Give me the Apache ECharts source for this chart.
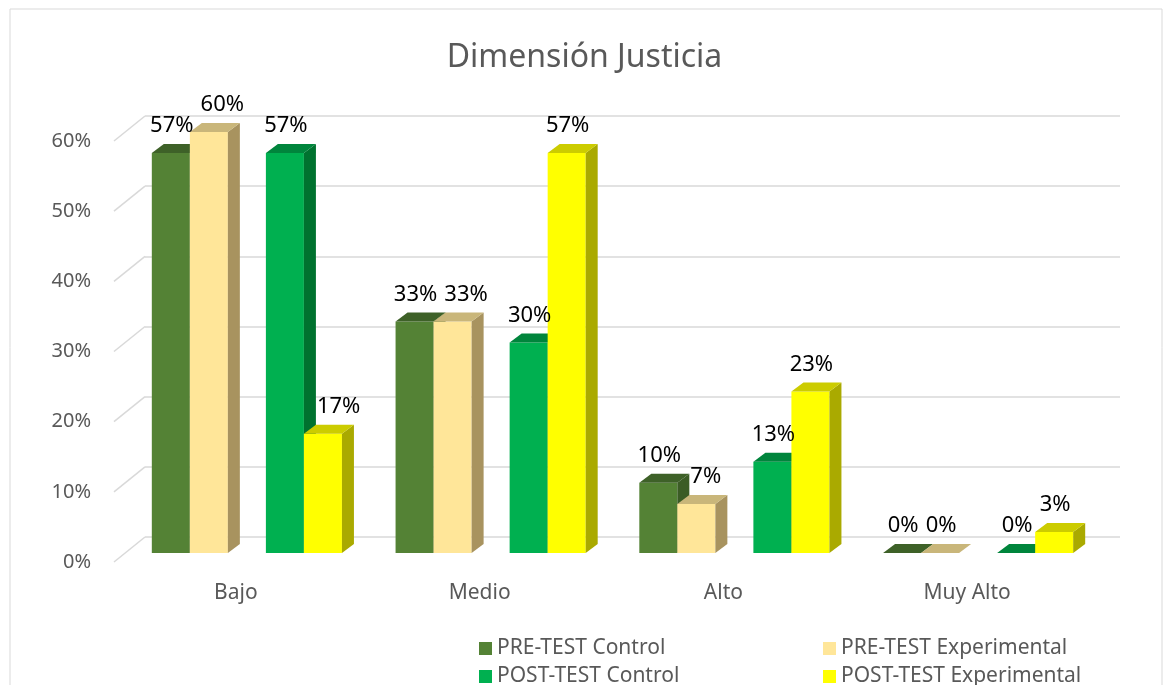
<!DOCTYPE html>
<html>
<head>
<meta charset="utf-8">
<script src="https://cdn.jsdelivr.net/npm/echarts@6/dist/echarts.min.js"></script>
<style>
  html, body { margin: 0; padding: 0; background: #fff; }
  #chartmain { width: 1169px; height: 685px; }
</style>
</head>
<body>
<div id="chartmain"></div>
<script>
// datos
var categories = ['Bajo', 'Medio', 'Alto', 'Muy Alto'];
var seriesNames = ['PRE-TEST Control', 'PRE-TEST Experimental', 'POST-TEST Control', 'POST-TEST Experimental'];
var preControl = [0.57, 0.33, 0.10, 0.00];
var preExperimental = [0.60, 0.33, 0.07, 0.00];
var postControl = [0.57, 0.30, 0.13, 0.00];
var postExperimental = [0.17, 0.57, 0.23, 0.03];
var yTicks = [0, 0.1, 0.2, 0.3, 0.4, 0.5, 0.6];

// colores: frente, tapa, lado
var colors = [
    { front: '#548235', top: '#3e6128', side: '#3b5c25' },
    { front: '#FFE699', top: '#c9b67a', side: '#a8935f' },
    { front: '#00B050', top: '#00853c', side: '#00722f' },
    { front: '#FFFF00', top: '#cccc00', side: '#aaaa00' }
];
var slots = [-2.5, -1.5, 0.5, 1.5]; // posicion de cada barra (en anchos de barra)
var BAR_W = 0.156;   // ancho de barra / ancho de categoria
var DX = 12, DY = 9; // profundidad de la barra
var WALL_DX = 31, WALL_DY = 25; // del plano frontal a la pared del fondo
var FONT = 'Noto Sans';
var LABEL_FONT = '22px "' + FONT + '"';
var LABEL_H = 24, LABEL_GAP = 7;

var allValues = [preControl, preExperimental, postControl, postExperimental];

function pct(v) { return Math.round(v * 100) + '%'; }

var ctx = document.createElement('canvas').getContext('2d');
function textWidth(s) { ctx.font = LABEL_FONT; return ctx.measureText(s).width; }

// geometria de una barra y su etiqueta (sin desplazar)
function barGeom(api, k, cat) {
    var val = allValues[k][cat];
    var base = api.coord([cat, 0]);
    var top = api.coord([cat, val]);
    var w = api.size([1, 0])[0] * BAR_W;
    var x0 = base[0] + slots[k] * w;
    var tw = textWidth(pct(val));
    var cx = x0 + w / 2 + 1;
    var by = top[1] - DY - LABEL_GAP; // base de la etiqueta
    return { x0: x0, x1: x0 + w, y0: base[1], y1: top[1], w: w, tw: tw,
             lx0: cx - tw / 2, lx1: cx + tw / 2, ly0: by - LABEL_H, ly1: by };
}
function overlap(a0, a1, b0, b1) { return a0 < b1 && b0 < a1; }

function barRenderer(k) {
    return function (params, api) {
        var cat = api.value(0), val = api.value(1);
        var g = barGeom(api, k, cat);
        var x0 = g.x0, x1 = g.x1, y0 = g.y0, y1 = g.y1, w = g.w;
        // evitar que la etiqueta tape la barra o etiqueta vecina (a la izquierda)
        var lx0 = g.lx0;
        if (k === 1 || k === 3) {
            var p = barGeom(api, k - 1, cat);
            var minLeft = -Infinity;
            if (overlap(g.ly0, g.ly1, p.ly0, p.ly1) && overlap(g.lx0, g.lx1, p.lx0, p.lx1)) minLeft = p.lx1 + 7;
            if (overlap(g.ly0, g.ly1, p.y1 - DY, p.y0) && overlap(g.lx0, g.lx1, p.x0, p.x1 + DX)) minLeft = Math.max(minLeft, p.x1 + DX + 1);
            if (lx0 < minLeft) lx0 = minLeft;
        }
        var c = colors[k];
        var children = [];
        if (y0 - y1 > 0.5) {
            children.push({ type: 'rect', shape: { x: x0, y: y1, width: w, height: y0 - y1 }, style: { fill: c.front } });
            children.push({ type: 'polygon', shape: { points: [[x1, y1], [x1 + DX, y1 - DY], [x1 + DX, y0 - DY], [x1, y0]] }, style: { fill: c.side } });
        }
        children.push({ type: 'polygon', shape: { points: [[x0, y1], [x0 + DX, y1 - DY], [x1 + DX, y1 - DY], [x1, y1]] }, style: { fill: c.top } });
        children.push({
            type: 'text', z2: 100,
            style: { text: pct(val), x: lx0, y: g.ly1, align: 'left', verticalAlign: 'bottom', fill: '#000', font: LABEL_FONT }
        });
        return { type: 'group', children: children };
    };
}

var barSeries = allValues.map(function (arr, k) {
    return {
        name: seriesNames[k],
        type: 'custom',
        xAxisIndex: 1, yAxisIndex: 1,
        itemStyle: { color: colors[k].front },
        renderItem: barRenderer(k),
        encode: { x: 0, y: 1 },
        data: arr.map(function (v, i) { return [i, v]; }),
        z: 3
    };
});

// lineas diagonales de la cuadricula (lado izquierdo)
var diagSeries = {
    type: 'custom',
    xAxisIndex: 0, yAxisIndex: 0,
    silent: true,
    renderItem: function (params, api) {
        var p = api.coord([0, api.value(1)]);
        var x = params.coordSys.x;
        return { type: 'line', shape: { x1: x, y1: p[1], x2: x + WALL_DX, y2: p[1] - WALL_DY }, style: { stroke: '#d9d9d9', lineWidth: 1.5 } };
    },
    encode: { x: 0, y: 1 },
    data: yTicks.map(function (t) { return [0, t]; }),
    z: 1
};

var axisText = { color: '#595959', fontSize: 20, fontFamily: FONT };

// una leyenda por elemento (2 columnas x 2 filas)
var legendPos = [[479, 638], [823, 638], [479, 666], [823, 666]];
var legendOrder = [0, 1, 2, 3];
var legends = legendOrder.map(function (k, i) {
    return {
        left: legendPos[i][0], top: legendPos[i][1], itemWidth: 13, itemHeight: 13,
        icon: 'rect', selectedMode: false, padding: 0,
        textStyle: { color: '#595959', fontSize: 21, fontFamily: FONT },
        data: [seriesNames[k]]
    };
});

var option = {
    backgroundColor: '#fff',
    animation: false,
    title: {
        text: 'Dimensión Justicia',
        left: 'center', top: 37,
        textStyle: { color: '#595959', fontSize: 32, fontWeight: 'normal', fontFamily: FONT }
    },
    legend: legends,
    grid: [
        // plano frontal (etiquetas)
        { left: 114, right: 80, top: 141, bottom: 123 },
        // barras
        { left: 125, right: 69, top: 132, bottom: 132 },
        // pared del fondo (cuadricula)
        { left: 145, right: 49, top: 116, bottom: 148 }
    ],
    xAxis: [
        { gridIndex: 0, type: 'category', data: categories, axisLine: { show: false }, axisTick: { show: false },
          axisLabel: Object.assign({ margin: 21 }, axisText, { fontSize: 21 }) },
        { gridIndex: 1, type: 'category', data: categories, show: false },
        { gridIndex: 2, type: 'category', data: categories, show: false }
    ],
    yAxis: [
        { gridIndex: 0, type: 'value', min: 0, max: 0.6, interval: 0.1, splitLine: { show: false },
          axisLine: { show: false }, axisTick: { show: false },
          axisLabel: Object.assign({ margin: 23, formatter: pct }, axisText) },
        { gridIndex: 1, type: 'value', min: 0, max: 0.6, interval: 0.1, show: false, splitLine: { show: false } },
        { gridIndex: 2, type: 'value', min: 0, max: 0.6, interval: 0.1,
          axisLine: { show: false }, axisTick: { show: false }, axisLabel: { show: false },
          splitLine: { show: true, lineStyle: { color: '#d9d9d9', width: 1.5 } } }
    ],
    graphic: [
        { type: 'rect', shape: { x: 10, y: 9, width: 1152, height: 700 }, style: { fill: 'none', stroke: '#d9d9d9', lineWidth: 1 }, silent: true }
    ],
    series: [diagSeries].concat(barSeries)
};

var myChart = echarts.init(document.getElementById('chartmain'));
myChart.setOption(option);
</script>
</body>
</html>
